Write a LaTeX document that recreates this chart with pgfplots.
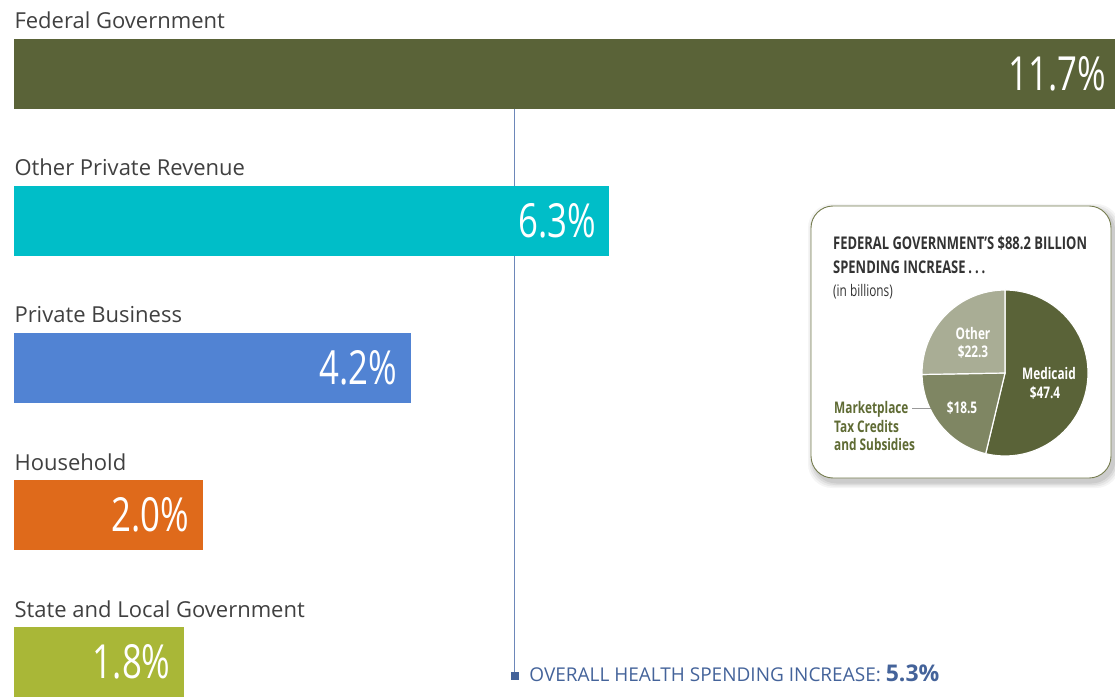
\documentclass[border=0pt]{standalone}
\usepackage{fontspec}
\setmainfont{Open Sans}
\newfontfamily\cond[FakeStretch=0.74]{Open Sans}
\usepackage{pgfplots}
\pgfplotsset{compat=1.18}
\definecolor{fed}{HTML}{5A6338}
\definecolor{opr}{HTML}{00BEC8}
\definecolor{pbus}{HTML}{5183D3}
\definecolor{hh}{HTML}{DF6A1B}
\definecolor{sl}{HTML}{A9B737}
\definecolor{mkt}{HTML}{7F8663}
\definecolor{oth}{HTML}{A9AD95}
\definecolor{lbl}{HTML}{404040}
\definecolor{ovl}{HTML}{44639A}
\definecolor{vline}{HTML}{6D87B9}
\definecolor{boxc}{HTML}{767D50}
\definecolor{mktxt}{HTML}{5F6B34}
\definecolor{ttl}{HTML}{333333}
\pgfplotsset{
  barsty/.style={xbar, bar width=0.476, bar shift=0pt, draw=none,
    point meta=explicit symbolic, nodes near coords={\pgfplotspointmeta\%},
    every node near coord/.append style={anchor=east, xshift=-10pt, text=white,
      font=\cond\fontsize{47}{47}\selectfont}}
}
\tikzset{catlbl/.style={anchor=base west, yshift=45pt, xshift=-3pt, text=lbl, font=\fontsize{22}{22}\selectfont}}
\begin{document}
\begin{tikzpicture}
\useasboundingbox (0,0) rectangle (1115pt,697pt);
\begin{axis}[at={(0,0)}, anchor=south west, width=1115pt, height=697pt, scale only axis,
  xmin=-0.148, xmax=11.65, ymin=-0.503, ymax=4.238, y dir=reverse, hide axis, clip=false]
\addplot[draw=vline, line width=1.2pt, mark=none] coordinates {(5.3,0.238) (5.3,4.095)};
\addplot[only marks, mark=square*, mark size=3.3pt, color=ovl] coordinates {(5.3,4.095)};
\addplot[barsty, fill=fed] coordinates {(11.7,0) [11.7]};
\addplot[barsty, fill=opr] coordinates {(6.3,1) [6.3]};
\addplot[barsty, fill=pbus] coordinates {(4.2,2) [4.2]};
\addplot[barsty, fill=hh] coordinates {(2.0,3) [2.0]};
\addplot[barsty, fill=sl] coordinates {(1.8,4) [1.8]};
\node[catlbl] at (axis cs:0,0) {Federal Government};
\node[catlbl] at (axis cs:0,1) {Other Private Revenue};
\node[catlbl] at (axis cs:0,2) {Private Business};
\node[catlbl] at (axis cs:0,3) {Household};
\node[catlbl] at (axis cs:0,4) {State and Local Government};
\node[anchor=base west, text=ovl, xshift=11pt, yshift=-6pt] at (axis cs:5.3,4.095)
  {\fontsize{19}{19}\selectfont OVERALL HEALTH SPENDING INCREASE: {\bfseries\fontsize{23}{23}\selectfont 5.3\%}};
\end{axis}
% inset box
\foreach \o/\op in {6/0.04,4.5/0.05,3/0.06,1.5/0.07}{
  \fill[black, opacity=\op, rounded corners=24pt] (811pt-\o pt+3pt,219pt-\o pt-4pt) rectangle (1111pt+\o pt+3pt,491pt+\o pt-4pt);
}
\filldraw[fill=white, draw=boxc, line width=0.9pt, rounded corners=22pt] (811pt,219pt) rectangle (1111pt,491pt);
\node[anchor=base west, text=ttl, font=\cond\bfseries\fontsize{17.5}{17.5}\selectfont, inner sep=0pt] at (833pt,447pt) {FEDERAL GOVERNMENT’S \$88.2 BILLION};
\node[anchor=base west, text=ttl, font=\cond\bfseries\fontsize{17.5}{17.5}\selectfont, inner sep=0pt] at (833pt,423pt) {SPENDING INCREASE\,.\,.\,.};
\node[anchor=base west, text=ttl, font=\cond\fontsize{16}{16}\selectfont, inner sep=0pt] at (833pt,401pt) {(in billions)};
\begin{axis}[at={(1005pt,324pt)}, anchor=center, width=166pt, height=166pt, scale only axis,
  xmin=-1, xmax=1, ymin=-1, ymax=1, hide axis, clip=false]
\pgfmathsetmacro\aM{47.4/88.2*360}
\pgfmathsetmacro\aT{18.5/88.2*360}
\pgfmathsetmacro\aO{22.3/88.2*360}
\filldraw[fill=fed, draw=white, line width=1.2pt] (axis cs:0,0) -- ++(90:83pt) arc[start angle=90, delta angle=-\aM, radius=83pt] -- cycle;
\filldraw[fill=mkt, draw=white, line width=1.2pt] (axis cs:0,0) -- ++(90-\aM:83pt) arc[start angle=90-\aM, delta angle=-\aT, radius=83pt] -- cycle;
\filldraw[fill=oth, draw=white, line width=1.2pt] (axis cs:0,0) -- ++(90-\aM-\aT:83pt) arc[start angle=90-\aM-\aT, delta angle=-\aO, radius=83pt] -- cycle;
\end{axis}
\begin{scope}[every node/.style={text=white, font=\cond\bfseries\fontsize{16}{16}\selectfont, inner sep=0pt}]
\node at (973pt,364pt) {Other};
\node at (973pt,345pt) {\$22.3};
\node at (1049pt,324pt) {Medicaid};
\node at (1045pt,304pt) {\$47.4};
\node at (962pt,289pt) {\$18.5};
\end{scope}
\draw[color=gray!80, line width=0.8pt] (912pt,289pt) -- (931pt,289pt);
\begin{scope}[every node/.style={anchor=base west, text=mktxt, font=\cond\bfseries\fontsize{16}{16}\selectfont, inner sep=0pt}]
\node at (834pt,284pt) {Marketplace};
\node at (834pt,265pt) {Tax Credits};
\node at (834pt,247pt) {and Subsidies};
\end{scope}
\end{tikzpicture}
\end{document}
